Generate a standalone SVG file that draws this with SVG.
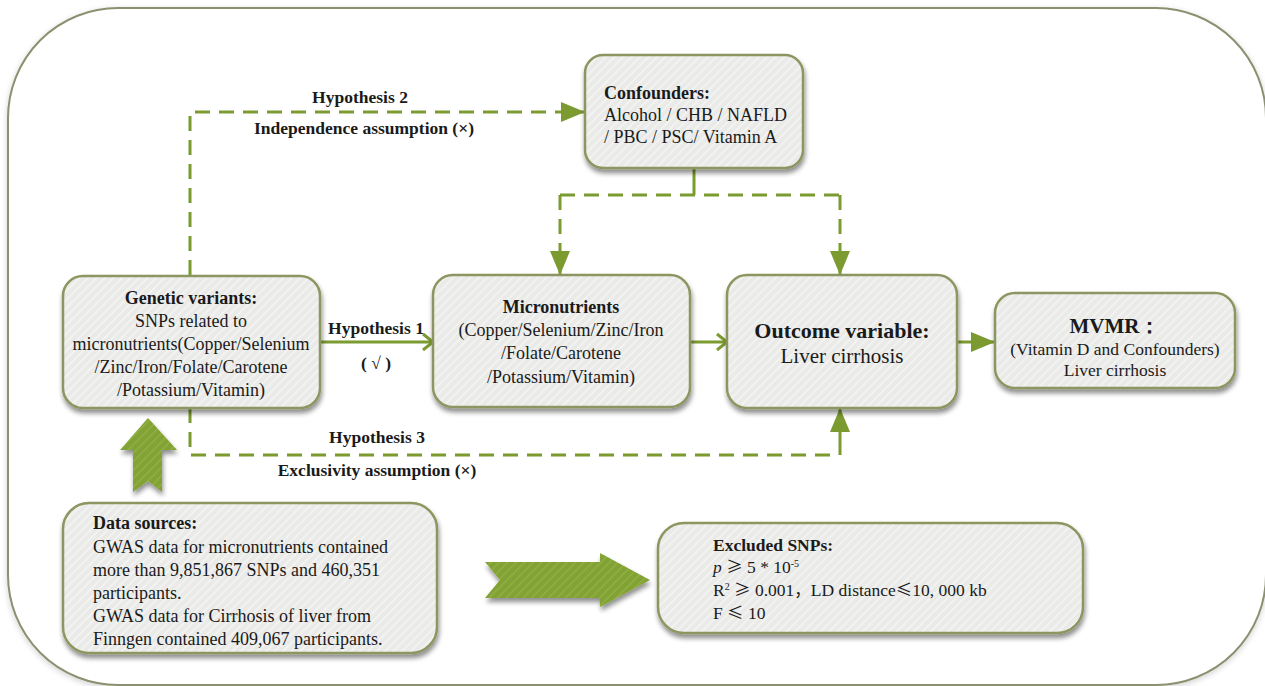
<svg xmlns="http://www.w3.org/2000/svg" width="1265" height="686" viewBox="0 0 1265 686">
<defs>
<pattern id="hatch" patternUnits="userSpaceOnUse" width="6" height="6" patternTransform="rotate(45)">
<rect width="6" height="6" fill="#eaeae8"/>
<line x1="0" y1="0" x2="0" y2="6" stroke="#f5f5f4" stroke-width="3"/>
</pattern>
<pattern id="greenHatch" patternUnits="userSpaceOnUse" width="6" height="6" patternTransform="rotate(45)">
<rect width="6" height="6" fill="#82a234"/>
<line x1="0" y1="0" x2="0" y2="6" stroke="#93b244" stroke-width="2.5"/>
</pattern>
<filter id="shadow" x="-10%" y="-10%" width="120%" height="130%">
<feGaussianBlur in="SourceAlpha" stdDeviation="2.5"/>
<feOffset dx="1" dy="4" result="b"/>
<feComponentTransfer><feFuncA type="linear" slope="0.45"/></feComponentTransfer>
<feMerge><feMergeNode/><feMergeNode in="SourceGraphic"/></feMerge>
</filter>
<filter id="outerShadow" x="-5%" y="-5%" width="110%" height="110%">
<feGaussianBlur in="SourceAlpha" stdDeviation="3"/>
<feOffset dx="0" dy="2"/>
<feComponentTransfer><feFuncA type="linear" slope="0.18"/></feComponentTransfer>
<feMerge><feMergeNode/><feMergeNode in="SourceGraphic"/></feMerge>
</filter>
<marker id="tri" markerUnits="userSpaceOnUse" markerWidth="24" markerHeight="20" viewBox="0 0 24 20" refX="24" refY="10" orient="auto">
<polygon points="0,0 24,10 0,20" fill="#7b9a2f"/>
</marker>
<marker id="chev" markerUnits="userSpaceOnUse" markerWidth="14" markerHeight="20" viewBox="0 0 14 20" refX="12" refY="10" orient="auto">
<polyline points="2,2 12,10 2,18" fill="none" stroke="#7b9a2f" stroke-width="3"/>
</marker>
<style>
.box{fill:url(#hatch);stroke:#8b9660;stroke-width:2.5;filter:url(#shadow)}
.t{font-family:"Liberation Serif","Times New Roman",serif;fill:#1a1a1a;font-size:18px}
.h{font-size:17.5px}
.b{font-weight:bold}
.c{text-anchor:middle}
.cjk{font-family:"Noto Sans CJK SC",sans-serif;font-size:16.5px}
.ex{font-size:17.5px}
.dash{fill:none;stroke:#7b9a2f;stroke-width:3;stroke-dasharray:15 9}
.solid{fill:none;stroke:#7b9a2f;stroke-width:3}
.big{fill:url(#greenHatch);filter:url(#shadow)}
</style>
</defs>
<rect x="0" y="0" width="1265" height="686" fill="#ffffff"/>
<rect id="frame" x="8" y="8" width="1258" height="677" rx="110" ry="110" fill="#ffffff" stroke="#8b9070" stroke-width="2" filter="url(#outerShadow)"/>

<g id="connectors">
<path class="dash" d="M190,275 V112 H585" marker-end="url(#tri)"/>
<path class="solid" d="M694,168 V195"/>
<path class="dash" d="M560,195 H840"/>
<path class="dash" d="M560,195 V275" marker-end="url(#tri)"/>
<path class="dash" d="M840,195 V275" marker-end="url(#tri)"/>
<path class="solid" d="M320,342 H433" marker-end="url(#chev)"/>
<path class="solid" d="M690,342 H727" marker-end="url(#chev)"/>
<path class="solid" d="M957,342 H995" marker-end="url(#tri)"/>
<path class="dash" d="M190,408 V455 H834"/>
<path class="solid" d="M840,455 V408" marker-end="url(#tri)"/>
<text class="t h b c" x="360" y="103">Hypothesis 2</text>
<text class="t h b c" x="364" y="134">Independence assumption (×)</text>
<text class="t h b c" x="376" y="334">Hypothesis 1</text>
<text class="t h b c" x="376" y="369">( √ )</text>
<text class="t h b c" x="377" y="443">Hypothesis 3</text>
<text class="t h b c" x="377" y="476">Exclusivity assumption (×)</text>
</g>

<g id="confounders">
<rect class="box" x="585" y="55" width="218" height="113" rx="18"/>
<text class="t b" x="604" y="99">Confounders:</text>
<text class="t" x="604" y="121">Alcohol / CHB / NAFLD</text>
<text class="t" x="604" y="143">/ PBC / PSC/ Vitamin A</text>
</g>

<g id="genetic">
<rect class="box" x="63" y="276" width="257" height="132" rx="20"/>
<text class="t b c" x="191" y="304">Genetic variants:</text>
<text class="t c" x="191" y="327">SNPs related to</text>
<text class="t c" x="191" y="350">micronutrients(Copper/Selenium</text>
<text class="t c" x="191" y="373">/Zinc/Iron/Folate/Carotene</text>
<text class="t c" x="191" y="396">/Potassium/Vitamin)</text>
</g>

<g id="micronutrients">
<rect class="box" x="433" y="275" width="257" height="132" rx="20"/>
<text class="t b c" x="561" y="313">Micronutrients</text>
<text class="t c" x="561" y="336">(Copper/Selenium/Zinc/Iron</text>
<text class="t c" x="561" y="359">/Folate/Carotene</text>
<text class="t c" x="561" y="383">/Potassium/Vitamin)</text>
</g>

<g id="outcome">
<rect class="box" x="727" y="275" width="230" height="133" rx="20"/>
<text class="t b c" x="842" y="338" style="font-size:22px">Outcome variable:</text>
<text class="t c" x="842" y="363" style="font-size:21px">Liver cirrhosis</text>
</g>

<g id="mvmr">
<rect class="box" x="995" y="293" width="240" height="95" rx="20"/>
<text class="t b c" x="1115" y="333" style="font-size:21px">MVMR：</text>
<text class="t c" x="1115" y="355" style="font-size:17.5px">(Vitamin D and Confounders)</text>
<text class="t c" x="1115" y="376" style="font-size:17.5px">Liver cirrhosis</text>
</g>

<g id="upArrow">
<polygon class="big" points="148,418 177,450 162,450 162,492 148,481 133,492 133,450 120,450"/>
</g>

<g id="datasources">
<rect class="box" x="63" y="503" width="374" height="150" rx="26"/>
<text class="t b" x="93" y="529">Data sources:</text>
<text class="t" x="93" y="553">GWAS data for micronutrients contained</text>
<text class="t" x="93" y="576">more than 9,851,867 SNPs and 460,351</text>
<text class="t" x="93" y="599">participants.</text>
<text class="t" x="93" y="622">GWAS data for Cirrhosis of liver from</text>
<text class="t" x="93" y="645">Finngen contained 409,067 participants.</text>
</g>

<g id="rightArrow">
<polygon class="big" points="485,562 600,562 600,553 650,580 600,607 600,598 485,598 500,580"/>
</g>

<g id="excluded">
<rect class="box" x="658" y="523" width="425" height="110" rx="26"/>
<text class="t ex b" x="713" y="551">Excluded SNPs:</text>
<text class="t ex" x="713" y="573"><tspan font-style="italic">p</tspan> <tspan class="cjk">≥</tspan> 5 * 10<tspan dy="-6" style="font-size:10px">-5</tspan></text>
<text class="t ex" x="713" y="596">R<tspan dy="-6" style="font-size:10px">2</tspan><tspan dy="6"> </tspan><tspan class="cjk">≥</tspan> 0.001<tspan class="cjk">，</tspan>LD distance<tspan class="cjk">≤</tspan>10, 000 kb</text>
<text class="t ex" x="713" y="619">F <tspan class="cjk">≤</tspan> 10</text>
</g>
</svg>
